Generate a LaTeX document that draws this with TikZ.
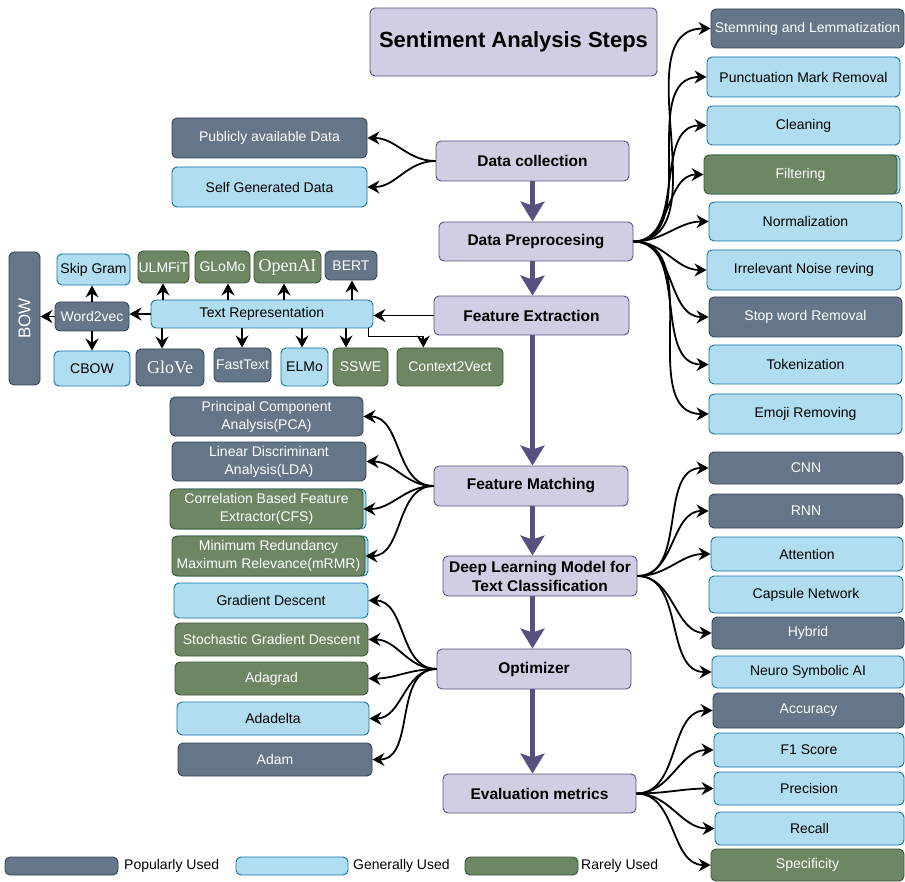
\documentclass[tikz,border=0pt]{standalone}
\usepackage{fontspec}
\setmainfont{Liberation Sans}
\newfontfamily\tnrfont{Liberation Serif}
\usetikzlibrary{arrows.meta,calc}

\definecolor{popF}{HTML}{647687}
\definecolor{popD}{HTML}{314354}
\definecolor{genF}{HTML}{B1DDF0}
\definecolor{genD}{HTML}{10739E}
\definecolor{rareF}{HTML}{6D8764}
\definecolor{rareD}{HTML}{3A5431}
\definecolor{stepF}{HTML}{D0CEE2}
\definecolor{stepD}{HTML}{56517E}

\tikzset{
  base/.style={rounded corners=5pt, line width=0.9pt, inner sep=0pt, align=center,
               font=\fontsize{14}{18}\selectfont},
  pop/.style={base, fill=popF, draw=popD, text=white},
  gen/.style={base, fill=genF, draw=genD, text=black},
  rare/.style={base, fill=rareF, draw=rareD, text=white},
  stepbox/.style={base, fill=stepF, draw=stepD, text=black,
                  font=\bfseries\fontsize{15.5}{19}\selectfont},
  backbox/.style={rounded corners=5pt, line width=0.9pt, fill=genF, draw=genD},
  fan/.style={draw=black, line width=1.8pt, -{Stealth[length=12pt,width=13pt,inset=4pt]}},
  flow/.style={draw=stepD, line width=5pt, -{Stealth[length=20pt,width=24pt,inset=4pt]}},
  legtext/.style={anchor=west, inner sep=0pt, font=\fontsize{14}{17}\selectfont},
}

% box given by its corners: style, name, x1, y1, x2, y2, text
\newcommand{\mkbox}[7]{%
  \node[#1, minimum width={(#5-#3)*1pt}, minimum height={(#6-#4)*1pt}]
    (#2) at ({(#3+#5)/2},{(#4+#6)/2}) {#7};}

\begin{document}
\begin{tikzpicture}[x=1pt,y=-1pt]
\useasboundingbox (0,0) rectangle (905,882);

% ---- title and main steps ----
\mkbox{stepbox}{title}{370}{8}{657}{76}{\fontsize{22}{26}\selectfont Sentiment Analysis Steps}
\mkbox{stepbox}{dc}{436}{141}{629}{181}{Data collection}
\mkbox{stepbox}{dp}{439}{222}{633}{261}{Data Preprocesing}
\mkbox{stepbox}{fe}{434}{296}{629}{335}{Feature Extraction}
\mkbox{stepbox}{fm}{434}{466}{628}{506}{Feature Matching}
\mkbox{stepbox}{dl}{443}{556}{637}{596}{Deep Learning Model for\\Text Classification}
\mkbox{stepbox}{opt}{437}{649}{631}{689}{Optimizer}
\mkbox{stepbox}{ev}{443}{774}{636}{813}{Evaluation metrics}

% ---- data sources ----
\mkbox{pop}{pub}{172}{118}{367}{158}{Publicly available Data}
\mkbox{gen}{self}{172}{167}{367}{207}{Self Generated Data}

% ---- text representation ----
\mkbox{pop}{bow}{9}{252}{40}{385}{}
\node[rotate=90, text=white, font=\fontsize{17}{20}\selectfont] (bowtxt) at (bow.center) {BOW};
\mkbox{gen}{skip}{57}{254}{130}{285}{Skip Gram}
\mkbox{pop}{w2v}{55}{302}{129}{331}{Word2vec}
\mkbox{gen}{cbow}{54}{351}{130}{386}{CBOW}
\mkbox{rare}{ulm}{138}{251}{189}{283}{ULMFiT}
\mkbox{rare}{glomo}{195}{251}{250}{283}{GLoMo}
\mkbox{rare}{openai}{254}{251}{321}{283}{\tnrfont\fontsize{18}{20}\selectfont OpenAI}
\mkbox{pop}{bert}{325}{251}{377}{280}{BERT}
\mkbox{gen}{tr}{151}{300}{373}{328}{Text Representation}
\mkbox{pop}{glove}{136}{349}{204}{386}{\tnrfont\fontsize{18}{20}\selectfont GloVe}
\mkbox{pop}{fast}{214}{348}{271}{382}{FastText}
\mkbox{gen}{elmo}{281}{348}{328}{386}{ELMo}
\mkbox{rare}{sswe}{333}{348}{388}{386}{SSWE}
\mkbox{rare}{c2v}{397}{348}{503}{386}{Context2Vect}

% ---- feature matching ----
\mkbox{pop}{pca}{170}{397}{363}{436}{Principal Component\\Analysis(PCA)}
\mkbox{pop}{lda}{172}{442}{366}{481}{Linear Discriminant\\Analysis(LDA)}
\draw[backbox] (173,489) rectangle (366,529);
\mkbox{rare}{cfs}{170}{489}{363}{529}{Correlation Based Feature\\Extractor(CFS)}
\draw[backbox] (175,536) rectangle (368,576);
\mkbox{rare}{mrmr}{172}{536}{365}{576}{Minimum Redundancy\\Maximum Relevance(mRMR)}

% ---- optimizers ----
\mkbox{gen}{gd}{174}{583}{368}{618}{Gradient Descent}
\mkbox{rare}{sgd}{175}{623}{368}{656}{Stochastic Gradient Descent}
\mkbox{rare}{adag}{175}{662}{368}{695}{Adagrad}
\mkbox{gen}{adad}{177}{702}{369}{735}{Adadelta}
\mkbox{pop}{adam}{178}{743}{372}{776}{Adam}

% ---- preprocessing ----
\mkbox{pop}{stem}{711}{9}{904}{48}{Stemming and Lemmatization}
\mkbox{gen}{punct}{707}{57}{900}{97}{Punctuation Mark Removal}
\mkbox{gen}{clean}{707}{106}{900}{145}{Cleaning}
\draw[backbox] (707,155) rectangle (900,194);
\mkbox{rare}{filt}{704}{155}{897}{194}{Filtering}
\mkbox{gen}{norm}{709}{202}{902}{241}{Normalization}
\mkbox{gen}{irr}{707}{250}{901}{290}{Irrelevant Noise reving}
\mkbox{pop}{stop}{709}{297}{902}{337}{Stop word Removal}
\mkbox{gen}{tok}{709}{345}{902}{384}{Tokenization}
\mkbox{gen}{emoji}{709}{394}{902}{434}{Emoji Removing}

% ---- models ----
\mkbox{pop}{cnn}{709}{452}{903}{484}{CNN}
\mkbox{pop}{rnn}{709}{494}{903}{528}{RNN}
\mkbox{gen}{att}{711}{537}{903}{571}{Attention}
\mkbox{gen}{caps}{709}{576}{903}{613}{Capsule Network}
\mkbox{pop}{hyb}{712}{617}{904}{649}{Hybrid}
\mkbox{gen}{neuro}{712}{656}{904}{688}{Neuro Symbolic AI}

% ---- metrics ----
\mkbox{pop}{acc}{713}{693}{904}{728}{Accuracy}
\mkbox{gen}{f1}{714}{733}{904}{767}{F1 Score}
\mkbox{gen}{prec}{714}{772}{904}{805}{Precision}
\mkbox{gen}{rec}{715}{812}{904}{845}{Recall}
\mkbox{rare}{spec}{711}{849}{904}{881}{Specificity}

% ---- legend ----
\mkbox{pop}{lg1}{5}{857}{118}{875}{}
\node[legtext] (lt1) at (124,866) {Popularly Used};
\mkbox{gen}{lg2}{236}{857}{348}{875}{}
\node[legtext] (lt2) at (353,866) {Generally Used};
\mkbox{rare}{lg3}{465}{857}{578}{875}{}
\node[legtext] (lt3) at (581,866) {Rarely Used};

% ---- main flow ----
\draw[flow] (dc.south) -- (dc.south |- dp.north);
\draw[flow] (dp.south -| dc.south) -- (dc.south |- fe.north);
\draw[flow] (fe.south -| dc.south) -- (dc.south |- fm.north);
\draw[flow] (fm.south -| dc.south) -- (dc.south |- dl.north);
\draw[flow] (dl.south -| dc.south) -- (dc.south |- opt.north);
\draw[flow] (opt.south -| dc.south) -- (dc.south |- ev.north);

% ---- fans ----
\foreach \t in {pub,self} \draw[fan] (dc.west) to[out=180,in=0] (\t.east);
\foreach \t in {stem,punct,clean,filt,norm,irr,stop,tok,emoji}
  \draw[fan] (dp.east) to[out=0,in=180] (\t.west);
\foreach \t in {pca,lda,cfs,mrmr} \draw[fan] (fm.west) to[out=180,in=0] (\t.east);
\foreach \t in {cnn,rnn,att,hyb,neuro} \draw[fan] (dl.east) to[out=0,in=180] (\t.west);
\foreach \t in {gd,sgd,adag,adad,adam} \draw[fan] (opt.west) to[out=180,in=0] (\t.east);
\foreach \t in {acc,f1,prec,rec,spec} \draw[fan] (ev.east) to[out=0,in=180] (\t.west);

% ---- text representation links ----
\draw[fan] (fe.west) -- (fe.west -| tr.east);
\draw[fan] (tr.west) -- (tr.west -| w2v.east);
\draw[fan] (w2v.west) -- (w2v.west -| bow.east);
\draw[fan] (w2v.north) -- (w2v.north |- skip.south);
\draw[fan] (w2v.south) -- (w2v.south |- cbow.north);
\coordinate (pu) at ([xshift=-0.5pt]ulm.south);
\coordinate (pg) at ([xshift=5.5pt]glomo.south);
\coordinate (po) at ([xshift=-3.5pt]openai.south);
\coordinate (pb) at ([xshift=1pt]bert.south);
\foreach \p in {pu,pg,po,pb} \draw[fan] (\p |- tr.north) -- (\p);
\coordinate (qg) at ([xshift=-8pt]glove.north);
\coordinate (qf) at ([xshift=-0.5pt]fast.north);
\coordinate (qe) at ([xshift=-2.5pt]elmo.north);
\coordinate (qs) at ([xshift=-14.5pt]sswe.north);
\foreach \q in {qg,qf,qe,qs} \draw[fan] (\q |- tr.south) -- (\q);
\coordinate (qc) at ($(c2v.north west)!0.25!(c2v.north east)$);
\coordinate (qt) at ([xshift=-5pt]tr.south east);
\draw[fan] (qt) -- ++(0,8) -| (qc);
\end{tikzpicture}
\end{document}
